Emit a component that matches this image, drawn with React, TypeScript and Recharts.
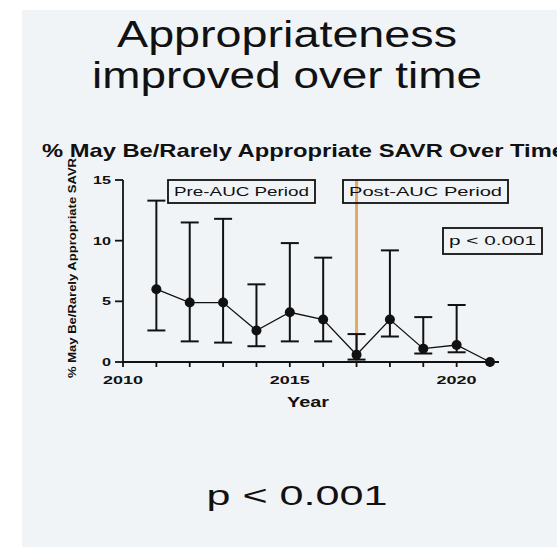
import React from "react";
import {
  LineChart,
  Line,
  XAxis,
  YAxis,
  ErrorBar,
  ReferenceLine,
} from "recharts";

const years = [2011, 2012, 2013, 2014, 2015, 2016, 2017, 2018, 2019, 2020, 2021];
const pct = [6.0, 4.9, 4.9, 2.6, 4.1, 3.5, 0.6, 3.5, 1.1, 1.4, 0];
const lower = [2.6, 1.7, 1.6, 1.3, 1.7, 1.7, 0.2, 2.1, 0.7, 0.8, 0];
const upper = [13.3, 11.5, 11.8, 6.4, 9.8, 8.6, 2.3, 9.2, 3.7, 4.7, 0];

const xTicks = [2010, 2011, 2012, 2013, 2014, 2015, 2016, 2017, 2018, 2019, 2020, 2021];
const yTicks = [0, 5, 10, 15];
const aucYear = 2017;

const data = years.map((year, i) => ({
  year,
  pct: pct[i],
  err: [pct[i] - lower[i], upper[i] - pct[i]],
}));

const FONT = "'Liberation Sans', Arial, sans-serif";
const BG = "#f1f4f7";

const XTick = ({ x, y, payload }: any) => {
  if (payload.value % 5 !== 0) return null;
  return (
    <text
      x={x}
      y={y}
      dy={15}
      textAnchor="middle"
      fontFamily={FONT}
      fontWeight="bold"
      fontSize={11}
      fill="#111"
      textLength={40}
      lengthAdjust="spacingAndGlyphs"
    >
      {payload.value}
    </text>
  );
};

const YTick = ({ x, y, payload }: any) => {
  const s = String(payload.value);
  return (
    <text
      x={x - 2}
      y={y}
      dy={4}
      textAnchor="end"
      fontFamily={FONT}
      fontWeight="bold"
      fontSize={11}
      fill="#111"
      textLength={s.length * 9}
      lengthAdjust="spacingAndGlyphs"
    >
      {s}
    </text>
  );
};

const Box = ({ x, y, w, h, text, size }: any) => (
  <g>
    <rect x={x} y={y} width={w} height={h} fill="none" stroke="#111" strokeWidth={1.8} />
    <text
      x={x + w / 2}
      y={y + h / 2 + size * 0.36}
      textAnchor="middle"
      fontFamily={FONT}
      fontSize={size}
      fill="#111"
      textLength={w - 12}
      lengthAdjust="spacingAndGlyphs"
    >
      {text}
    </text>
  </g>
);

export default function App() {
  return (
    <div
      style={{
        position: "absolute",
        left: 0,
        top: 0,
        width: 557,
        height: 554,
        background: "#fff",
        overflow: "hidden",
      }}
    >
      <div
        style={{
          position: "absolute",
          left: 22,
          top: 10,
          width: 535,
          height: 537,
          background: BG,
        }}
      />
      <div style={{ position: "absolute", left: 0, top: 0 }}>
        <LineChart
          width={557}
          height={554}
          data={data}
          margin={{ top: 180, right: 67, bottom: 162, left: 0 }}
        >
          <XAxis
            dataKey="year"
            type="number"
            domain={[2010, 2021]}
            ticks={xTicks}
            interval={0}
            height={30}
            tickSize={5}
            tick={<XTick />}
            stroke="#111"
            strokeWidth={1.8}
            tickLine={{ stroke: "#111", strokeWidth: 1.8 }}
          />
          <YAxis
            type="number"
            domain={[0, 15]}
            ticks={yTicks}
            width={123}
            tickSize={8}
            tick={<YTick />}
            stroke="#111"
            strokeWidth={1.8}
            tickLine={{ stroke: "#111", strokeWidth: 1.8 }}
          />
          <ReferenceLine x={aucYear} stroke="#e3a862" strokeWidth={3} />
          <Line
            dataKey="pct"
            stroke="#111"
            strokeWidth={1.3}
            dot={{ r: 5, fill: "#111", stroke: "#111", strokeWidth: 0 }}
            isAnimationActive={false}
          >
            <ErrorBar
              dataKey="err"
              direction="y"
              width={9}
              stroke="#111"
              strokeWidth={2}
              isAnimationActive={false}
            />
          </Line>
        </LineChart>
      </div>
      <svg
        width={557}
        height={554}
        style={{ position: "absolute", left: 0, top: 0, pointerEvents: "none" }}
      >
        <text
          x={287}
          y={47}
          textAnchor="middle"
          fontFamily={FONT}
          fontSize={36}
          fill="#111"
          textLength={340}
          lengthAdjust="spacingAndGlyphs"
        >
          Appropriateness
        </text>
        <text
          x={287}
          y={88}
          textAnchor="middle"
          fontFamily={FONT}
          fontSize={36}
          fill="#111"
          textLength={390}
          lengthAdjust="spacingAndGlyphs"
        >
          improved over time
        </text>
        <text
          x={42}
          y={157}
          fontFamily={FONT}
          fontWeight="bold"
          fontSize={19}
          fill="#111"
          textLength={523}
          lengthAdjust="spacingAndGlyphs"
        >
          % May Be/Rarely Appropriate SAVR Over Time
        </text>
        <text
          transform="translate(76, 268) rotate(-90)"
          textAnchor="middle"
          fontFamily={FONT}
          fontWeight="bold"
          fontSize={11.5}
          fill="#111"
          textLength={220}
          lengthAdjust="spacingAndGlyphs"
        >
          % May Be/Rarely Appropriate SAVR
        </text>
        <text
          x={308}
          y={407}
          textAnchor="middle"
          fontFamily={FONT}
          fontWeight="bold"
          fontSize={14}
          fill="#111"
          textLength={42}
          lengthAdjust="spacingAndGlyphs"
        >
          Year
        </text>
        <Box x={168} y={180} w={147} h={23} text="Pre-AUC Period" size={13} />
        <Box x={343} y={180} w={165} h={23} text="Post-AUC Period" size={13} />
        <Box x={443} y={228} w={99} h={26} text="p < 0.001" size={12} />
        <text
          x={297}
          y={505}
          textAnchor="middle"
          fontFamily={FONT}
          fontSize={27}
          fill="#111"
          textLength={181}
          lengthAdjust="spacingAndGlyphs"
        >
          p &lt; 0.001
        </text>
      </svg>
    </div>
  );
}
